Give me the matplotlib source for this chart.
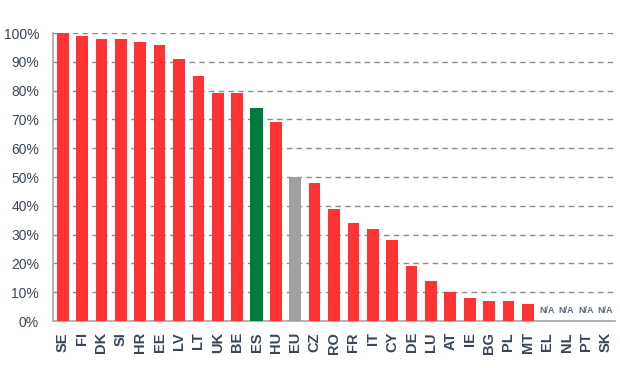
import numpy as np
import matplotlib
matplotlib.use('Agg')
import matplotlib.pyplot as plt

plt.rcParams['font.family'] = ['Liberation Sans Narrow', 'Liberation Sans', 'DejaVu Sans']

countries = ['SE', 'FI', 'DK', 'SI', 'HR', 'EE', 'LV', 'LT', 'UK', 'BE', 'ES', 'HU', 'EU',
             'CZ', 'RO', 'FR', 'IT', 'CY', 'DE', 'LU', 'AT', 'IE', 'BG', 'PL', 'MT',
             'EL', 'NL', 'PT', 'SK']
values = [100, 99, 98, 98, 97, 96, 91, 85, 79, 79, 74, 69, 50,
          48, 39, 34, 32, 28, 19, 14, 10, 8, 7, 7, 6,
          None, None, None, None]

red = '#ff3333'
green = '#007a3d'
grey = '#a0a0a0'
text_col = '#3a4656'

fig = plt.figure(figsize=(6.2, 3.68), dpi=100)
ax = fig.add_axes([0.0855, 0.1277, 0.9065, 0.7826])

x = np.arange(len(countries))
for i, (c, v) in enumerate(zip(countries, values)):
    if v is None:
        ax.text(i, 3.6, 'N/A', ha='center', va='center', fontsize=6.5,
                fontweight='bold', color='#5c6b7a')
        continue
    col = red
    w = 0.6
    if c == 'ES':
        col = green
        w = 0.7
    elif c == 'EU':
        col = grey
    ax.bar(i, v, width=w, color=col, zorder=3)

ax.set_xlim(-0.5, len(countries) - 0.5)
ax.set_ylim(0, 100)
ax.set_yticks(np.arange(0, 101, 10))
ax.set_yticklabels(['%d%%' % t for t in range(0, 101, 10)])
ax.set_xticks(x)
ax.set_xticklabels(countries, rotation=90, fontweight='bold')

ax.yaxis.grid(True, linestyle=(0, (4, 3)), color='#8c8c8c', linewidth=1.0, zorder=0)
ax.xaxis.grid(False)
for s in ['top', 'right']:
    ax.spines[s].set_visible(False)
for s in ['left', 'bottom']:
    ax.spines[s].set_color('#a6a6a6')
    ax.spines[s].set_linewidth(1.2)
ax.tick_params(axis='y', length=0, labelsize=10, labelcolor=text_col, pad=10)
ax.tick_params(axis='x', length=0, labelsize=10.5, labelcolor=text_col, pad=8)

fig.savefig('out.png', dpi=100)
